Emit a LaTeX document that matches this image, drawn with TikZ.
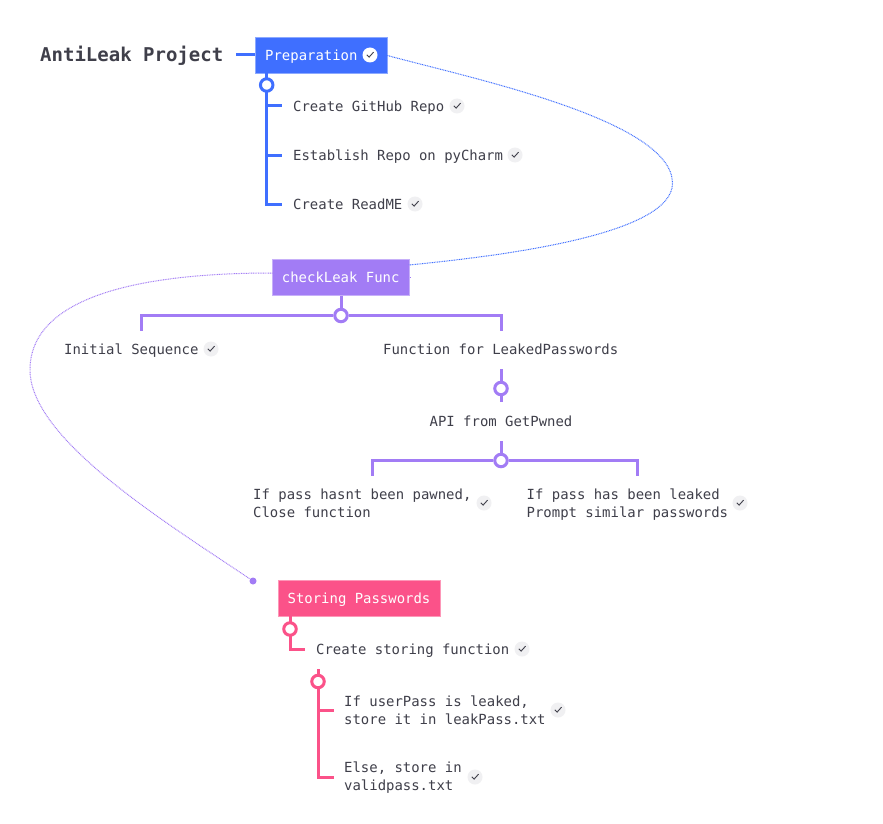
\documentclass[tikz,border=0pt]{standalone}
\usepackage{fontspec}
\setmainfont{DejaVu Sans Mono}
\definecolor{cblue}{HTML}{3F6FFF}
\definecolor{cpurple}{HTML}{A27CF5}
\definecolor{cpink}{HTML}{FB5289}
\definecolor{ctext}{HTML}{3F3F4A}
\definecolor{cchk}{HTML}{F0F0F2}
\newcommand{\ls}{\vrule width 0pt height 14pt depth 3pt\relax}
\tikzset{
  lbl/.style={anchor=west,inner sep=0pt,text=ctext,font=\fontsize{13.94}{17.6}\selectfont,align=left},
  ctr/.style={inner sep=0pt,text=ctext,font=\fontsize{13.94}{17.6}\selectfont},
  title/.style={anchor=west,inner sep=0pt,text=ctext,font=\fontsize{19}{22}\selectfont\bfseries},
  topic/.style={inner sep=0pt,draw=#1!60!white,line width=0.8pt,fill=#1,text=white,font=\fontsize{13.94}{17.6}\selectfont},
  chk/.style={circle,minimum size=15pt,inner sep=0pt,fill=cchk},
  conn/.style={line width=3pt,color=#1},
  hub/.style={circle,minimum size=12.5pt,inner sep=0pt,draw=#1,line width=3pt,fill=white},
  rel/.style={dash pattern=on 0.9pt off 0.8pt,line width=1pt,color=#1},
  tick/.style={line width=0.9pt,color=ctext}
}
\newcommand{\chkat}[2]{%
  \node[chk] (#1) at (#2) {};
  \draw[tick] ([shift={(-3.2pt,0.2pt)}]#1.center) -- ([shift={(-0.9pt,-2.1pt)}]#1.center) -- ([shift={(3.6pt,2.9pt)}]#1.center);}
\begin{document}
\begin{tikzpicture}[x=1pt,y=-1pt]
\useasboundingbox (0,0) rectangle (883,824);
\fill[white] (0,0) rectangle (883,824);

% topics
\node[topic=cblue,minimum width=132pt,minimum height=36pt] (prep) at (321,55) {};
\node[anchor=west,inner sep=0pt,text=white,font=\fontsize{13.94}{17.6}\selectfont] (preptxt) at (265,55) {\ls Preparation};
\node[topic=cpurple,minimum width=136.5pt,minimum height=36.5pt] (check) at (340.7,277.3) {\ls checkLeak Func};
\node[topic=cpink,minimum width=162pt,minimum height=36pt] (store) at (359,598) {\ls Storing Passwords};
\node[title] (root) at (40,55) {\vrule width 0pt height 16pt depth 2pt\relax AntiLeak Project};

% relationship lines
\coordinate (relA) at (387,55.5);
\coordinate (relB) at (409,265);
\coordinate (relC) at (272.5,273);
\node[circle,fill=cpurple,minimum size=7pt,inner sep=0pt] (relEnd) at (253,581) {};
\draw[rel=cblue] (prep.east |- relA) .. controls (470,78) and (672,120) .. (672.5,183)
   .. controls (673,235) and (500,256) .. (relB);
\draw[rel=cpurple] (relC) .. controls (130,273) and (30,300) .. (30,370)
   .. controls (30,440) and (170,525) .. (relEnd);
\draw[line width=0.8pt,cpurple] (409.5,277.5) -- (411,277.5);

% preparation branch
\coordinate (p0) at (236,55);
\draw[conn=cblue] (p0) -- (prep.west);
\node[lbl] (p1) at (293,106) {\ls Create GitHub Repo};
\node[lbl] (p2) at (293,155) {\ls Establish Repo on pyCharm};
\node[lbl] (p3) at (293,204) {\ls Create ReadME};
\coordinate (p1e) at (282,106);
\coordinate (p2e) at (282,155);
\coordinate (p3e) at (282,204.5);
\coordinate (pS) at (266.7,73);
\draw[conn=cblue] (pS) -- (pS |- p3e) -- (p3e);
\draw[conn=cblue] (pS |- p1e) -- (p1e);
\draw[conn=cblue] (pS |- p2e) -- (p2e);
\node[hub=cblue] (phub) at (266.7,85) {};
\node[circle,fill=white,minimum size=15pt,inner sep=0pt] (pchkbg) at (370,55) {};
\draw[tick] ([shift={(-3.2pt,0.2pt)}]pchkbg.center) -- ([shift={(-0.9pt,-2.1pt)}]pchkbg.center) -- ([shift={(3.6pt,2.9pt)}]pchkbg.center);
\chkat{c1}{457,106}
\chkat{c2}{515,155}
\chkat{c3}{415,204}

% checkLeak branch
\coordinate (cL) at (141,331);
\coordinate (cR) at (501,331);
\node[hub=cpurple] (chub) at (341,315.5) {};
\draw[conn=cpurple] (check.south -| chub) -- (chub.north);
\draw[conn=cpurple] (chub.west) -- (cL |- chub) -- (cL);
\draw[conn=cpurple] (chub.east) -- (cR |- chub) -- (cR);
\node[lbl] (c4t) at (64,349) {\ls Initial Sequence};
\chkat{c4}{211,349}
\node[lbl] (fn) at (383,349) {\ls Function for LeakedPasswords};
\coordinate (fnT) at (501,369);
\coordinate (fnB) at (501,402);
\node[hub=cpurple] (fhub) at (501,388.5) {};
\draw[conn=cpurple] (fnT) -- (fhub.north);
\draw[conn=cpurple] (fhub.south) -- (fnB);
\node[ctr] (api) at (501,421) {\ls API from GetPwned};
\coordinate (aT) at (501,441);
\coordinate (aL) at (372.5,476);
\coordinate (aR) at (637,476);
\node[hub=cpurple] (ahub) at (501,460.5) {};
\draw[conn=cpurple] (aT) -- (ahub.north);
\draw[conn=cpurple] (ahub.west) -- (aL |- ahub) -- (aL);
\draw[conn=cpurple] (ahub.east) -- (aR |- ahub) -- (aR);
\node[lbl] (n1) at (253,503) {\ls If pass hasnt been pawned,\\\ls Close function};
\chkat{c5}{484,503}
\node[lbl] (n2) at (526.5,503) {\ls If pass has been leaked\\\ls Prompt similar passwords};
\chkat{c6}{740,503}

% storing branch
\coordinate (s1e) at (305,649.5);
\coordinate (sS) at (290,616);
\draw[conn=cpink] (sS) -- (sS |- s1e) -- (s1e);
\node[hub=cpink] (shub) at (290,629) {};
\node[lbl] (s1) at (316,649) {\ls Create storing function};
\chkat{c7}{522,649}
\coordinate (tT) at (318,669);
\coordinate (t1e) at (334,710);
\coordinate (t2e) at (334,777);
\draw[conn=cpink] (tT) -- (tT |- t2e) -- (t2e);
\draw[conn=cpink] (tT |- t1e) -- (t1e);
\node[hub=cpink] (thub) at (318,681.5) {};
\node[lbl] (s2) at (344,710) {\ls If userPass is leaked,\\\ls store it in leakPass.txt};
\chkat{c8}{558,710}
\node[lbl] (s3) at (344,776) {\ls Else, store in\\\ls validpass.txt};
\chkat{c9}{475,777}
\end{tikzpicture}
\end{document}
